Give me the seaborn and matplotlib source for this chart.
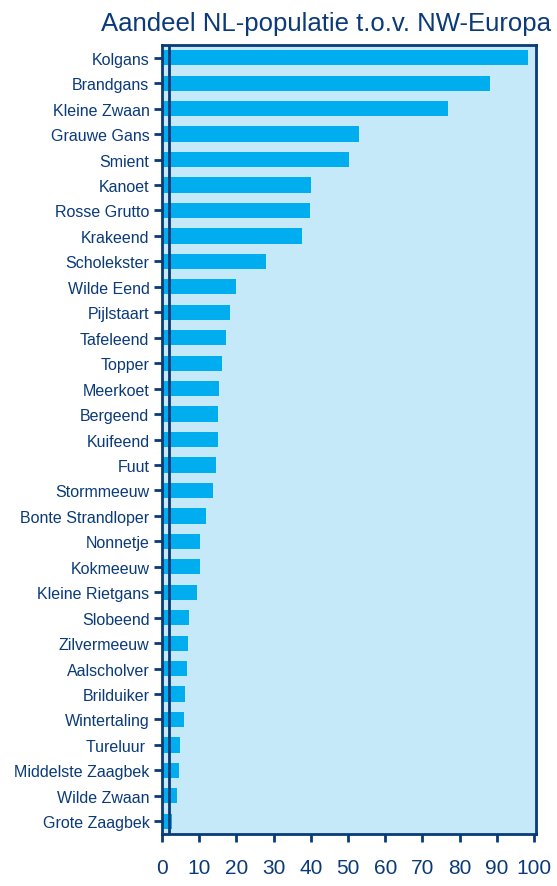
import pandas as pd
import seaborn as sns
import matplotlib.pyplot as plt

# Data
soorten = ['Kolgans', 'Brandgans', 'Kleine Zwaan', 'Grauwe Gans', 'Smient', 'Kanoet',
           'Rosse Grutto', 'Krakeend', 'Scholekster', 'Wilde Eend', 'Pijlstaart',
           'Tafeleend', 'Topper', 'Meerkoet', 'Bergeend', 'Kuifeend', 'Fuut',
           'Stormmeeuw', 'Bonte Strandloper', 'Nonnetje', 'Kokmeeuw', 'Kleine Rietgans',
           'Slobeend', 'Zilvermeeuw', 'Aalscholver', 'Brilduiker', 'Wintertaling',
           'Tureluur ', 'Middelste Zaagbek', 'Wilde Zwaan', 'Grote Zaagbek']
aandeel = [98.3, 88.2, 76.9, 53.0, 50.3, 40.0, 39.8, 37.6, 28.0, 19.9, 18.3,
           17.2, 16.1, 15.3, 15.0, 15.0, 14.5, 13.7, 11.8, 10.2, 10.2, 9.4,
           7.3, 7.0, 6.7, 6.2, 5.9, 4.8, 4.6, 4.0, 2.6]
drempel = 2
xticks = list(range(0, 101, 10))

df = pd.DataFrame({'soort': soorten, 'aandeel': aandeel})

navy = '#0a3a78'
lichtblauw = '#c6e9f9'
balk = '#00adef'

sns.set_style('white')
plt.rcParams['font.family'] = ['Liberation Sans', 'DejaVu Sans']

fig = plt.figure(figsize=(5.57, 8.87), dpi=100)
ax = fig.add_axes([0.2908, 0.0586, 0.6715, 0.8895])
ax.set_facecolor(lichtblauw)

sns.barplot(data=df, x='aandeel', y='soort', orient='h', color=balk,
            saturation=1, width=0.6, linewidth=0, edgecolor='none', ax=ax)

# drempellijn
ax.axvline(drempel, color=navy, lw=2, zorder=5)

ax.set_xlim(0, 100.5)
ax.set_ylim(len(soorten) - 0.5, -0.5)
ax.set_xticks(xticks)
ax.set_xlabel('')
ax.set_ylabel('')
ax.tick_params(axis='x', labelsize=15, colors=navy, length=6, width=2, direction='out', pad=11)
ax.tick_params(axis='y', labelsize=11.5, colors=navy, length=6, width=2, direction='out', pad=3)
ax.tick_params(bottom=True, left=True)
for s in ax.spines.values():
    s.set_color(navy)
    s.set_linewidth(2)

fig.text(0.99, 0.987, 'Aandeel NL-populatie t.o.v. NW-Europa', ha='right', va='top',
         fontsize=18.5, color=navy)

plt.savefig('out.png', dpi=100)
plt.close()
